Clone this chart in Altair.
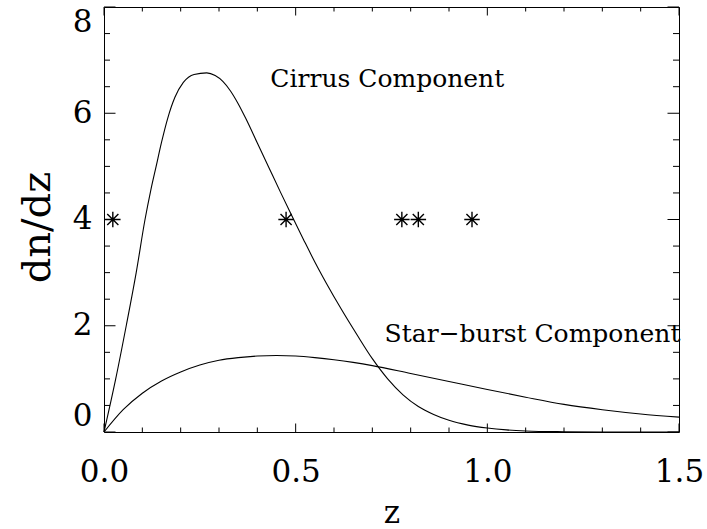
import altair as alt
import pandas as pd

# ---- data ----
cirrus_z = [0.0, 0.030, 0.058, 0.084, 0.107, 0.122, 0.136, 0.150, 0.166, 0.185, 0.207, 0.235, 0.268,
            0.290, 0.310, 0.330, 0.350, 0.370, 0.400, 0.430, 0.460, 0.490, 0.520, 0.550, 0.580,
            0.620, 0.660, 0.700, 0.740, 0.780, 0.820, 0.860, 0.900, 0.950, 1.000, 1.050, 1.100,
            1.200, 1.300, 1.500]
cirrus_v = [0.0, 0.98, 2.0, 3.0, 4.0, 4.55, 5.0, 5.45, 5.9, 6.3, 6.58, 6.73, 6.76,
            6.71, 6.60, 6.42, 6.18, 5.90, 5.44, 4.98, 4.52, 4.07, 3.63, 3.20, 2.80,
            2.30, 1.83, 1.38, 1.00, 0.70, 0.48, 0.33, 0.22, 0.13, 0.075, 0.04, 0.02,
            0.005, 0.0, 0.0]

starburst_z = [0.0, 0.05, 0.10, 0.15, 0.20, 0.25, 0.30, 0.35, 0.40, 0.45, 0.50, 0.55, 0.60,
               0.65, 0.70, 0.80, 0.90, 1.00, 1.10, 1.20, 1.30, 1.40, 1.50]
starburst_v = [0.0, 0.42, 0.73, 0.96, 1.13, 1.26, 1.35, 1.40, 1.43, 1.44, 1.43, 1.40, 1.36,
               1.31, 1.25, 1.10, 0.95, 0.80, 0.655, 0.52, 0.42, 0.34, 0.28]

star_z = [0.023, 0.475, 0.777, 0.820, 0.960]
star_v = [4, 4, 4, 4, 4]

label_text = ["Cirrus Component", "Star\u2212burst Component"]
label_z = [0.434, 0.732]
label_v = [6.50, 1.69]

x_major = [0.0, 0.5, 1.0, 1.5]
x_minor = [0.1, 0.2, 0.3, 0.4, 0.6, 0.7, 0.8, 0.9, 1.1, 1.2, 1.3, 1.4]
y_major = [0, 2, 4, 6, 8]
y_minor = [0.5, 1.0, 1.5, 2.5, 3.0, 3.5, 4.5, 5.0, 5.5, 6.5, 7.0, 7.5]

# ---- layout ----
W, H = 575, 425
XMAJ, XMIN = 8.5, 4.5
YMAJ, YMIN = 11.5, 6
FONT = "DejaVu Serif"

lines = pd.concat([
    pd.DataFrame({"z": cirrus_z, "v": cirrus_v, "s": "Cirrus"}),
    pd.DataFrame({"z": starburst_z, "v": starburst_v, "s": "Starburst"}),
])
stars = pd.DataFrame({"z": star_z, "v": star_v})
labels = pd.DataFrame({"z": label_z, "v": label_v, "t": label_text})

xscale = alt.Scale(domain=[0, 1.5], nice=False, zero=False)
yscale = alt.Scale(domain=[0, 8], nice=False, zero=False)

xaxis = alt.Axis(values=x_major, format=".1f", ticks=False, tickSize=0, domain=False, grid=False,
                 labelFont=FONT, labelFontSize=31, labelColor="black", labelPadding=25,
                 labelFlush=False,
                 title="z", titleFont=FONT, titleFontSize=31, titleFontWeight="normal",
                 titleColor="black", titleY=90, titleBaseline="alphabetic")
yaxis = alt.Axis(values=y_major, format="d", ticks=False, tickSize=0, domain=False, grid=False,
                 labelFont=FONT, labelFontSize=31, labelColor="black", labelPadding=12,
                 labelFlush=True,
                 title="dn/dz", titleFont=FONT, titleFontSize=40, titleFontWeight="normal",
                 titleColor="black", titleAngle=270, titleX=-55, titleY=220,
                 titleAlign="center", titleBaseline="alphabetic")

X = alt.X("z:Q", scale=xscale, axis=xaxis)
Y = alt.Y("v:Q", scale=yscale, axis=yaxis)

curve = alt.Chart(lines).mark_line(color="black", strokeWidth=1.1, interpolate="monotone").encode(
    x=X, y=Y, detail="s:N")

star_path = "M-1,0L1,0M0,-1L0,1M-0.72,-0.72L0.72,0.72M-0.72,0.72L0.72,-0.72"
starlayer = alt.Chart(stars).mark_point(shape=star_path, size=240, filled=False, color="black",
                                        strokeWidth=1.4, opacity=1).encode(x=X, y=Y)

text = alt.Chart(labels).mark_text(font=FONT, fontSize=25, align="left", baseline="alphabetic",
                                   color="black").encode(x=X, y=Y, text="t:N")

def xticks(vals, length):
    df = pd.DataFrame({"z": vals})
    b = alt.Chart(df).mark_rule(color="black", strokeWidth=1).encode(
        x=X, y=alt.value(H), y2=alt.value(H - length))
    t = alt.Chart(df).mark_rule(color="black", strokeWidth=1).encode(
        x=X, y=alt.value(0), y2=alt.value(length))
    return [b, t]

def yticks(vals, length):
    df = pd.DataFrame({"v": vals})
    l = alt.Chart(df).mark_rule(color="black", strokeWidth=1).encode(
        y=Y, x=alt.value(0), x2=alt.value(length))
    r = alt.Chart(df).mark_rule(color="black", strokeWidth=1).encode(
        y=Y, x=alt.value(W), x2=alt.value(W - length))
    return [l, r]

tick_layers = xticks(x_major, XMAJ) + xticks(x_minor, XMIN) + yticks(y_major, YMAJ) + yticks(y_minor, YMIN)

chart = alt.layer(curve, starlayer, text, *tick_layers).properties(
    width=W, height=H,
    autosize=alt.AutoSizeParams(type="none"),
    padding={"left": 104, "top": 7, "right": 28, "bottom": 97},
    background="white",
).configure_view(stroke="black", strokeWidth=1)

chart.save("out.html", embed_options={"renderer": "svg", "actions": False})
